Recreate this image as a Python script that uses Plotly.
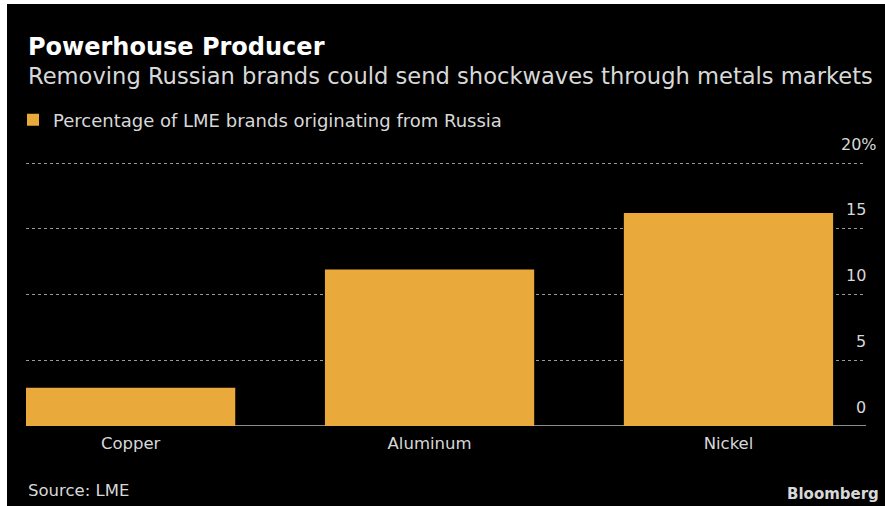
import plotly.graph_objects as go

# Data
metals = ["Copper", "Aluminum", "Nickel"]
russian_share = [2.9, 11.9, 16.2]
tick_vals = [0, 5, 10, 15, 20]
tick_text = ["0", "5", "10", "15", "20%"]

W, H = 885, 506
M_L, M_R, M_T, M_B = 26, 19, 162, 80
PW, PH = W - M_L - M_R, H - M_T - M_B
Y_MAX = 20.08

BG = "#000000"
BAR = "#E9A93B"
TXT = "#d8d8d8"
FONT = "DejaVu Sans"


def px_x(px):
    return (px - M_L) / PW


def px_y(py):
    return (H - M_B - py) / PH


fig = go.Figure()
fig.add_trace(go.Bar(
    x=metals, y=russian_share, marker=dict(color=BAR, line=dict(width=0)),
    name="Percentage of LME brands originating from Russia",
    showlegend=True,
))

annotations = [
    dict(text="<b>Powerhouse Producer</b>", x=px_x(26), y=px_y(47), xanchor="left",
         yanchor="middle", font=dict(size=24, color="#ffffff", family=FONT)),
    dict(text="Removing Russian brands could send shockwaves through metals markets",
         x=px_x(26), y=px_y(76), xanchor="left", yanchor="middle",
         font=dict(size=22.6, color=TXT, family=FONT)),
    dict(text="Source: LME", x=px_x(26), y=px_y(490), xanchor="left", yanchor="middle",
         font=dict(size=16.5, color=TXT, family=FONT)),
    dict(text="<b>Bloomberg</b>", x=px_x(881), y=px_y(494), xanchor="right", yanchor="middle",
         font=dict(size=15, color=TXT, family=FONT)),
]
for v, t in zip(tick_vals, tick_text):
    annotations.append(dict(
        text=t, x=1, xref="paper", y=v, yref="y", xanchor="right", yanchor="middle",
        xshift=2 + (11 if t.endswith("%") else 0), yshift=19, showarrow=False,
        font=dict(size=16, color=TXT, family=FONT),
    ))
for a in annotations:
    a.setdefault("xref", "paper")
    a.setdefault("yref", "paper")
    a.setdefault("showarrow", False)

shapes = [
    # white edges along the top and left of the image
    dict(type="rect", xref="paper", yref="paper", x0=px_x(0), x1=px_x(7), y0=px_y(H), y1=px_y(0),
         fillcolor="#ffffff", line=dict(width=0), layer="above"),
    dict(type="rect", xref="paper", yref="paper", x0=px_x(0), x1=px_x(W), y0=px_y(4), y1=px_y(0),
         fillcolor="#ffffff", line=dict(width=0), layer="above"),
    # baseline
    dict(type="line", xref="paper", yref="y", x0=0, x1=1, y0=0, y1=0,
         line=dict(color="#8a8a8a", width=2), layer="below"),
]

fig.update_layout(
    width=W, height=H,
    margin=dict(l=M_L, r=M_R, t=M_T, b=M_B),
    paper_bgcolor=BG, plot_bgcolor=BG,
    bargap=0.3,
    font=dict(family=FONT, color=TXT, size=16),
    showlegend=True,
    legend=dict(orientation="h", x=px_x(13), y=px_y(120), xanchor="left", yanchor="middle",
                font=dict(size=18, color=TXT, family=FONT), bgcolor="rgba(0,0,0,0)",
                itemclick=False),
    xaxis=dict(range=[-0.35, 2.46], showgrid=False, zeroline=False, showline=False,
               ticks="", ticklabelstandoff=5,
               tickfont=dict(size=16.5, color=TXT, family=FONT), fixedrange=True),
    yaxis=dict(range=[0, Y_MAX], tickvals=tick_vals, showticklabels=False,
               showgrid=True, gridcolor="#9a9a9a", griddash="dot", gridwidth=1,
               zeroline=False, showline=False, fixedrange=True),
    annotations=annotations,
    shapes=shapes,
)

fig.write_html("out.html")
